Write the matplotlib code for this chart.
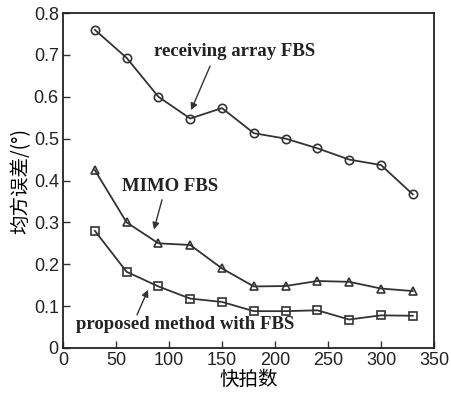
import numpy as np
import matplotlib
matplotlib.use('Agg')
import matplotlib.pyplot as plt

snapshots = [30, 60, 90, 120, 150, 180, 210, 240, 270, 300, 330]
receiving_fbs = [0.76, 0.693, 0.60, 0.548, 0.573, 0.513, 0.50, 0.477, 0.45, 0.437, 0.367]
mimo_fbs = [0.425, 0.30, 0.25, 0.246, 0.19, 0.147, 0.148, 0.16, 0.158, 0.142, 0.136]
proposed_fbs = [0.28, 0.182, 0.147, 0.118, 0.11, 0.088, 0.088, 0.09, 0.068, 0.078, 0.077]

line_color = '#333333'
cjk = ['Noto Sans CJK SC', 'DejaVu Sans']

fig = plt.figure(figsize=(4.51, 3.95), dpi=100)
ax = fig.add_axes([0.1397, 0.119, 0.8226, 0.848])

ax.plot(snapshots, receiving_fbs, color=line_color, lw=1.3, marker='o', ms=6,
        mfc='none', mec=line_color, mew=1.2)
ax.plot(snapshots, mimo_fbs, color=line_color, lw=1.3, marker='^', ms=6,
        mfc='none', mec=line_color, mew=1.2)
ax.plot(snapshots, proposed_fbs, color=line_color, lw=1.3, marker='s', ms=6,
        mfc='none', mec=line_color, mew=1.2)

ax.set_xlim(0, 350)
ax.set_ylim(0, 0.8)
ax.set_xticks(np.arange(0, 351, 50))
ax.set_yticks(np.arange(0, 0.81, 0.1))
ax.set_yticklabels(['0', '0.1', '0.2', '0.3', '0.4', '0.5', '0.6', '0.7', '0.8'])
ax.tick_params(direction='in', length=5, width=1, labelsize=13, pad=3,
               colors=line_color, labelcolor='#222222')
for lab in ax.get_xticklabels() + ax.get_yticklabels():
    lab.set_family('Liberation Sans')
for s in ax.spines.values():
    s.set_linewidth(1.3)
    s.set_color('#222222')

ax.set_xlabel('快拍数', family=cjk, fontsize=14, labelpad=0)
ax.set_ylabel('均方误差/(°)', family=cjk, fontsize=14, labelpad=2)

# labels and arrows drawn separately
txt = dict(family='Liberation Serif', weight='bold', fontsize=13.5, color='#222222',
           ha='center', va='center')
arr = dict(arrowstyle='-|>', color=line_color, lw=1, mutation_scale=10, shrinkA=0, shrinkB=0)
ax.text(162, 0.709, 'receiving array FBS', **txt)
ax.text(101, 0.386, 'MIMO FBS', **txt)
ax.text(115, 0.055, 'proposed method with FBS', **txt)
ax.annotate('', xy=(120.8, 0.568), xytext=(138.7, 0.673), arrowprops=arr)
ax.annotate('', xy=(85.8, 0.283), xytext=(93.4, 0.354), arrowprops=arr)
ax.annotate('', xy=(80.2, 0.139), xytext=(69.8, 0.079), arrowprops=arr)

fig.savefig('out.png', dpi=100)
